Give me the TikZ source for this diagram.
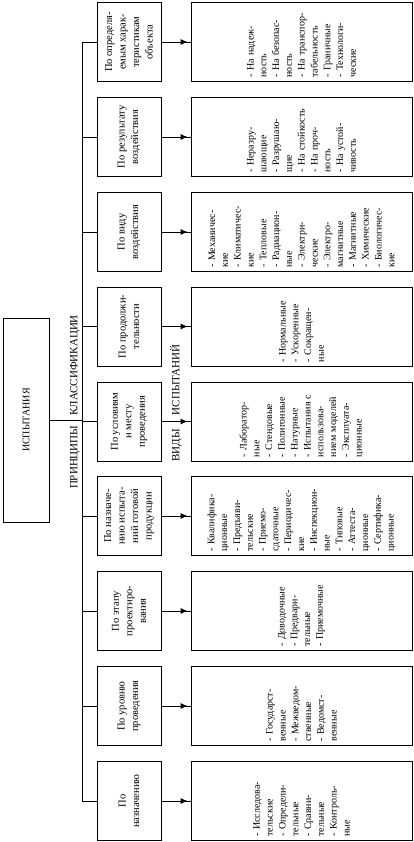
\documentclass[tikz,border=0pt]{standalone}
\usepackage{fontspec}
\setmainfont{Liberation Serif}
\usetikzlibrary{arrows.meta}

\begin{document}
\begin{tikzpicture}[x=1pt, y=-1pt, line width=0.8pt, line join=miter,
  box/.style={draw, rectangle, rotate=90, inner sep=3pt, minimum width=79pt},
  midbox/.style={box, minimum height=64pt, align=center, font=\fontsize{10.5}{13.5}\selectfont},
  kindbox/.style={box, minimum height=221pt, text width=71pt, inner xsep=4pt, align=left, font=\fontsize{10}{12.8}\selectfont},
  caption/.style={rotate=90, inner sep=0pt, font=\fontsize{11}{13}\selectfont},
  tip/.style={-{Latex[length=7pt,width=6pt]}}]

  %% ════ root box (rotated: .south = right side on the page) ════
  \node[box, minimum width=204pt, minimum height=46pt, font=\fontsize{10}{12}\selectfont] (test) at (26,420) {ИСПЫТАНИЯ};

  %% ════ principle boxes ════
  \node[midbox] (m1) at (129,42.0)  {По определя-\\емым харак-\\теристикам\\объекта};
  \node[midbox] (m2) at (129,137.0) {По результату\\воздействия};
  \node[midbox] (m3) at (129,232.0) {По виду\\воздействия};
  \node[midbox] (m4) at (129,326.5) {По продолжи-\\тельности};
  \node[midbox] (m5) at (129,421.5) {По условиям\\и месту\\проведения};
  \node[midbox] (m6) at (129,516.0) {По назначе-\\нию испыта-\\ний готовой\\продукции};
  \node[midbox] (m7) at (129,611.0) {По этапу\\проектиро-\\вания};
  \node[midbox] (m8) at (129,706.0) {По уровню\\проведения};
  \node[midbox] (m9) at (129,801.0) {По\\назначению};

  %% ════ kinds of tests ════
  \node[kindbox] (k1) at (301.5,42.0)  {- На надеж-\\ность\\- На безопас-\\ность\\- На транспор-\\табельность\\- Граничные\\- Технологи-\\ческие};
  \node[kindbox] (k2) at (301.5,137.0) {- Неразру-\\шающие\\- Разрушаю-\\щие\\- На стойкость\\- На проч-\\ность\\- На устой-\\чивость};
  \node[kindbox] (k3) at (301.5,232.0) {- Механичес-\\кие\\- Климатичес-\\кие\\- Тепловые\\- Радиацион-\\ные\\- Электри-\\ческие\\- Электро-\\магнитные\\- Магнитные\\- Химические\\- Биологичес-\\кие};
  \node[kindbox] (k4) at (301.5,326.5) {- Нормальные\\- Ускоренные\\- Сокращен-\\ные};
  \node[kindbox] (k5) at (301.5,421.5) {- Лаборатор-\\ные\\- Стендовые\\- Полигонные\\- Натурные\\- Испытания с\\использова-\\нием моделей\\- Эксплуата-\\ционные};
  \node[kindbox] (k6) at (301.5,516.0) {- Квалифика-\\ционные\\- Предъяви-\\тельские\\- Приемо-\\сдаточные\\- Периодичес-\\кие\\- Инспекцион-\\ные\\- Типовые\\- Аттеста-\\ционные\\- Сертифика-\\ционные};
  \node[kindbox] (k7) at (301.5,611.0) {- Доводочные\\- Предвари-\\тельные\\- Приемочные};
  \node[kindbox] (k8) at (301.5,706.0) {- Государст-\\венные\\- Межведом-\\ственные\\- Ведомст-\\венные};
  \node[kindbox] (k9) at (301.5,801.0) {- Исследова-\\тельские\\- Определи-\\тельные\\- Сравни-\\тельные\\- Контроль-\\ные};

  %% ════ side captions ════
  \node[caption] (principles) at (75,402) {ПРИНЦИПЫ\hspace{10pt}КЛАССИФИКАЦИИ};
  \node[caption] (kinds) at (176,403) {ВИДЫ\hspace{14pt}ИСПЫТАНИЙ};

  %% ════ connectors ════
  \coordinate (trunk) at (82,0);
  \draw (m1.north) -- (m1.north -| trunk) -- (m9.north -| trunk) -- (m9.north);
  \draw (test.south) -- (test.south -| trunk);
  \foreach \i in {2,...,8}
    \draw (m\i.north -| trunk) -- (m\i.north);
  \foreach \i in {1,...,9} {
    \draw (m\i.south) -- (k\i.north);
    \draw[tip] (m\i.south) -- ([xshift=-3pt]k\i.north);
  }

  % fix the canvas to the reference size
  \pgfresetboundingbox
  \path[use as bounding box] (0,0) rectangle (414,842);
\end{tikzpicture}
\end{document}
